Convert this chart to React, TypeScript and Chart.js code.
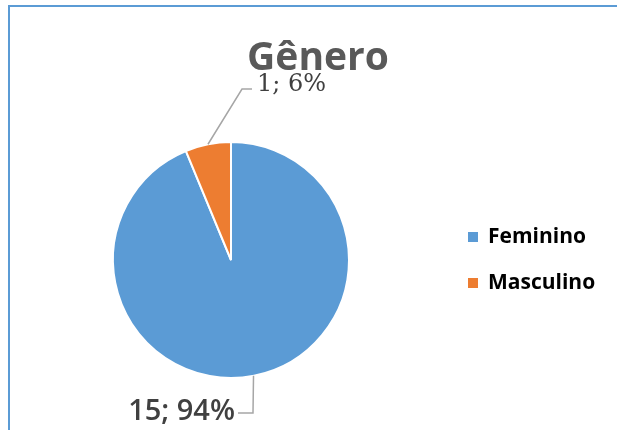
import React, { useEffect, useRef } from "react";
import { Chart, registerables } from "chart.js";

Chart.register(...registerables);

const TITLE = "Gênero";
const CATEGORIES = ["Feminino", "Masculino"];
const VALUES = [15, 1];
const COLORS = ["#5B9BD5", "#ED7D31"];

// label styling (offsets relative to pie centre, in px)
const LABEL_STYLE = [
  { anchorDeg: 79, elbow: [22, 153], end: [7, 153], text: [4, 160], align: "right", font: "600 29px 'Open Sans'" },
  { anchorDeg: null, elbow: [11, -171], end: [21, -171], text: [26, -169], align: "left", font: "24px 'DejaVu Serif'" },
];

const overlayPlugin = {
  id: "overlay",
  afterDraw(chart: any) {
    const ctx = chart.ctx as CanvasRenderingContext2D;
    const meta = chart.getDatasetMeta(0);
    const data = chart.data.datasets[0].data as number[];
    const total = data.reduce((a, b) => a + b, 0);
    ctx.save();
    // title
    ctx.fillStyle = "#595959";
    ctx.font = "bold 39px 'Open Sans'";
    ctx.textAlign = "center";
    ctx.textBaseline = "alphabetic";
    ctx.fillText(TITLE, 318, 70);

    // data labels with leader lines
    meta.data.forEach((arc: any, i: number) => {
      const p = arc.getProps(["x", "y", "startAngle", "endAngle", "outerRadius"], true);
      const st = LABEL_STYLE[i];
      const ang = st.anchorDeg == null ? (p.startAngle + p.endAngle) / 2 : (st.anchorDeg * Math.PI) / 180;
      const ax = p.x + Math.cos(ang) * p.outerRadius;
      const ay = p.y + Math.sin(ang) * p.outerRadius;
      ctx.strokeStyle = "#A6A6A6";
      ctx.lineWidth = 1.5;
      ctx.beginPath();
      ctx.moveTo(ax, ay);
      ctx.lineTo(p.x + st.elbow[0], p.y + st.elbow[1]);
      ctx.lineTo(p.x + st.end[0], p.y + st.end[1]);
      ctx.stroke();
      const pct = Math.round((data[i] / total) * 100);
      ctx.fillStyle = "#404040";
      ctx.font = st.font;
      ctx.textAlign = st.align as CanvasTextAlign;
      ctx.fillText(`${data[i]}; ${pct}%`, p.x + st.text[0], p.y + st.text[1]);
    });

    // legend
    const labels = chart.data.labels as string[];
    const bg = chart.data.datasets[0].backgroundColor as string[];
    labels.forEach((lab, i) => {
      const y = 232 + i * 46;
      ctx.fillStyle = bg[i];
      ctx.fillRect(468, y, 10, 10);
      ctx.fillStyle = "#000000";
      ctx.font = "bold 21px 'Open Sans'";
      ctx.textAlign = "left";
      ctx.fillText(lab, 488, y + 11);
    });
    ctx.restore();
  },
};

export default function App() {
  const ref = useRef<HTMLCanvasElement | null>(null);
  useEffect(() => {
    if (!ref.current) return;
    const chart = new Chart(ref.current, {
      type: "pie",
      data: {
        labels: CATEGORIES,
        datasets: [
          {
            data: VALUES,
            backgroundColor: COLORS,
            borderColor: "#FFFFFF",
            borderWidth: 2,
            hoverBorderWidth: 2,
          },
        ],
      },
      options: {
        responsive: false,
        animation: false,
        layout: { padding: { left: 112, right: 267, top: 141, bottom: 51 } },
        plugins: {
          legend: { display: false },
          title: { display: false },
          tooltip: { enabled: false },
        },
      },
      plugins: [overlayPlugin],
    });
    return () => chart.destroy();
  }, []);
  return (
    <div style={{ position: "absolute", left: 0, top: 0, width: 617, height: 430, overflow: "hidden", background: "#fff" }}>
      <canvas ref={ref} width={617} height={430} style={{ position: "absolute", left: 0, top: 0 }} />
      <div
        style={{
          position: "absolute",
          left: 8,
          top: 5,
          width: 700,
          height: 500,
          borderLeft: "2px solid #5B9BD5",
          borderTop: "2px solid #5B9BD5",
          pointerEvents: "none",
        }}
      />
    </div>
  );
}
